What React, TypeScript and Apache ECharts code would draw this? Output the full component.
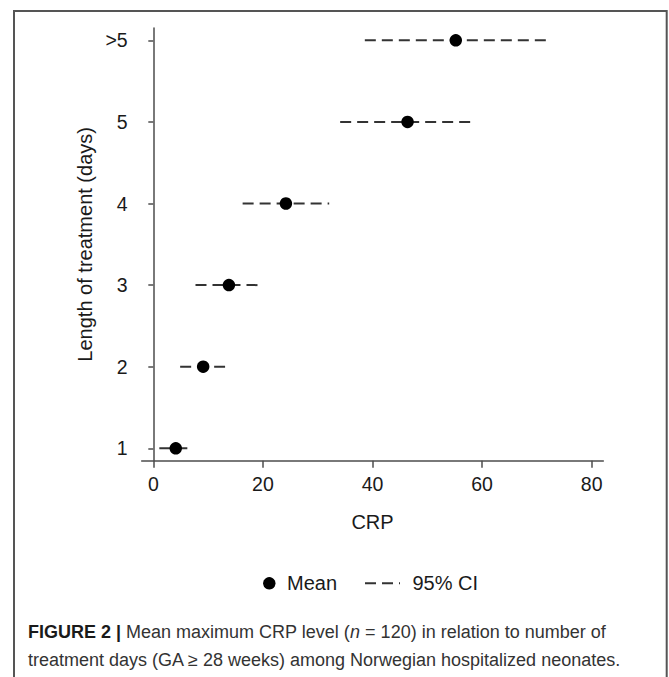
import React, { useEffect, useRef } from "react";
import * as echarts from "echarts";

// ---- data ----
const days = ["1", "2", "3", "4", "5", ">5"];
const meanCRP = [4.1, 9.1, 13.8, 24.2, 46.4, 55.2];
const ciLower = [1.1, 4.9, 7.7, 16.3, 34.1, 38.6];
const ciUpper = [6.3, 13.1, 19.2, 32.1, 58.0, 71.8];
const xTicks = [0, 20, 40, 60, 80];
const yTicks = [1, 2, 3, 4, 5, 6];

const FONT = "'Liberation Sans', Arial, sans-serif";

export default function App() {
  const ref = useRef<HTMLDivElement>(null);

  useEffect(() => {
    if (!ref.current) return;
    const chart = echarts.init(ref.current, undefined, { renderer: "svg" });

    const ciData = days.map((_, i) => [i + 1, ciLower[i], ciUpper[i]]);
    const meanData = days.map((_, i) => [meanCRP[i], i + 1]);

    const option: any = {
      animation: false,
      backgroundColor: "#ffffff",
      textStyle: { fontFamily: FONT },
      grid: { left: 141.7, top: 28, width: 461.6, height: 432.7, containLabel: false },
      xAxis: {
        type: "value",
        min: -2.117,
        max: 82.12,
        name: "CRP",
        nameLocation: "middle",
        nameGap: 51,
        nameTextStyle: { fontSize: 20, color: "#1a1a1a", fontFamily: FONT },
        axisLine: { show: true, lineStyle: { color: "#4d4d4d", width: 1.5 } },
        axisTick: { show: true, length: 7, customValues: xTicks, lineStyle: { color: "#4d4d4d", width: 1.5 } },
        axisLabel: {
          customValues: xTicks,
          fontSize: 19.5,
          color: "#1a1a1a",
          margin: 13,
          fontFamily: FONT,
        },
        splitLine: { show: false },
      },
      yAxis: {
        type: "value",
        min: 0.848,
        max: 6.151,
        name: "Length of treatment (days)",
        nameLocation: "middle",
        nameGap: 39,
        nameTextStyle: { fontSize: 20, color: "#1a1a1a", fontFamily: FONT },
        axisLine: { show: true, lineStyle: { color: "#4d4d4d", width: 1.5 } },
        axisTick: { show: true, length: 5, customValues: yTicks, lineStyle: { color: "#4d4d4d", width: 1.5 } },
        axisLabel: {
          customValues: yTicks,
          fontSize: 19.5,
          color: "#1a1a1a",
          margin: 14,
          fontFamily: FONT,
          formatter: (v: number) => days[Math.round(v) - 1] ?? "",
        },
        splitLine: { show: false },
      },
      series: [
        {
          name: "95% CI",
          type: "custom",
          data: ciData,
          encode: { x: [1, 2], y: 0 },
          z: 2,
          renderItem: (params: any, api: any) => {
            const y = api.value(0);
            const p1 = api.coord([api.value(1), y]);
            const p2 = api.coord([api.value(2), y]);
            return {
              type: "line",
              shape: { x1: p1[0], y1: p1[1], x2: p2[0], y2: p2[1] },
              style: { stroke: "#333333", lineWidth: 2, lineDash: [11, 6] },
            };
          },
        },
        {
          name: "Mean",
          type: "scatter",
          data: meanData,
          symbol: "circle",
          symbolSize: 12.5,
          itemStyle: { color: "#000000", opacity: 1 },
          z: 5,
        },
      ],
      graphic: [
        {
          type: "rect",
          shape: { x: 14, y: 11, width: 652.7, height: 700 },
          style: { fill: "none", stroke: "#555555", lineWidth: 2 },
          silent: true,
        },
        // legend
        {
          type: "circle",
          shape: { cx: 269.3, cy: 583.3, r: 6.2 },
          style: { fill: "#000000" },
        },
        {
          type: "text",
          x: 287,
          y: 583.3,
          style: { text: "Mean", fontSize: 20, fontFamily: FONT, fill: "#1a1a1a", verticalAlign: "middle", align: "left" },
        },
        {
          type: "line",
          shape: { x1: 365, y1: 583.3, x2: 400, y2: 583.3 },
          style: { stroke: "#333333", lineWidth: 2, lineDash: [11, 6] },
        },
        {
          type: "text",
          x: 412.5,
          y: 583.3,
          style: { text: "95% CI", fontSize: 20, fontFamily: FONT, fill: "#1a1a1a", verticalAlign: "middle", align: "left" },
        },
        // caption
        {
          type: "text",
          x: 28,
          y: 632,
          style: {
            text: "{b|FIGURE 2 |} Mean maximum CRP level ({i|n} = 120) in relation to number of",
            fontSize: 18,
            fontFamily: FONT,
            fill: "#333333",
            verticalAlign: "middle",
            align: "left",
            rich: {
              b: { fontWeight: "bold", fontSize: 18, fontFamily: FONT, fill: "#1a1a1a" },
              i: { fontStyle: "italic", fontSize: 18, fontFamily: FONT, fill: "#333333" },
            },
          },
        },
        {
          type: "text",
          x: 28,
          y: 660,
          style: {
            text: "treatment days (GA ≥ 28 weeks) among Norwegian hospitalized neonates.",
            fontSize: 18,
            fontFamily: FONT,
            fill: "#333333",
            verticalAlign: "middle",
            align: "left",
          },
        },
      ],
    };

    chart.setOption(option);
    return () => chart.dispose();
  }, []);

  return (
    <div
      ref={ref}
      style={{ position: "fixed", left: 0, top: 0, width: 669, height: 677, background: "#fff" }}
    />
  );
}
